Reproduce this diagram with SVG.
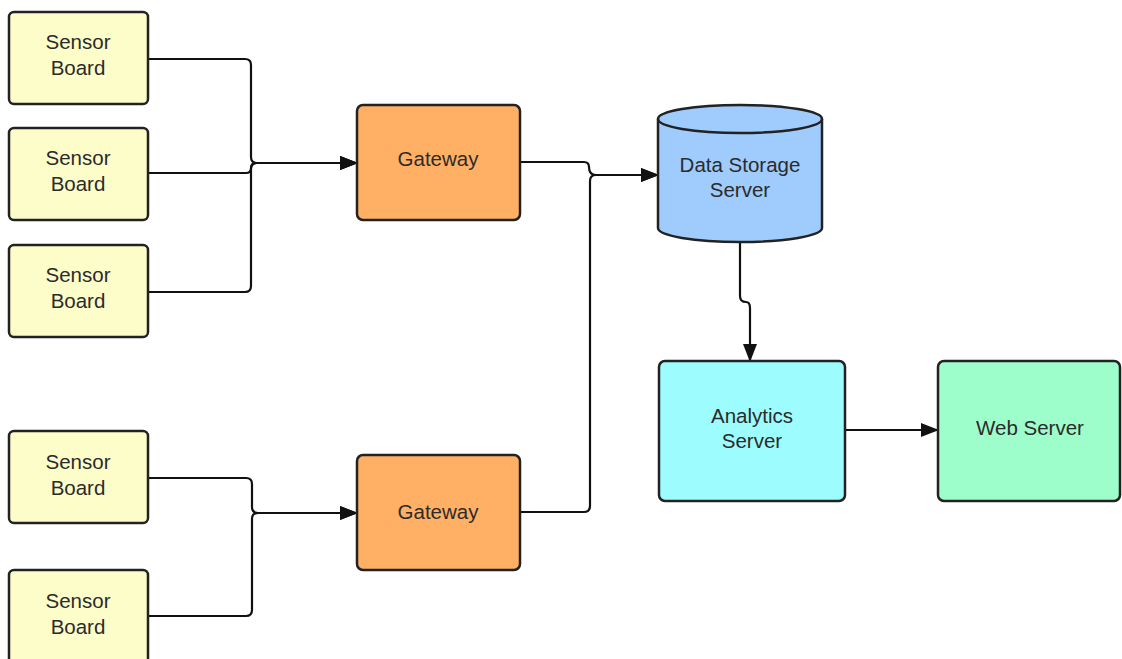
<svg xmlns="http://www.w3.org/2000/svg" width="1122" height="659" viewBox="0 0 1122 659">
  <defs>
    <marker id="arrow" markerUnits="userSpaceOnUse" markerWidth="18" markerHeight="14" refX="17" refY="7" orient="auto">
      <path d="M0,0 L18,7 L0,14 Z" fill="#111"/>
    </marker>
    <style>
      .box { stroke: #222; stroke-width: 2.5; }
      .sensor { fill: #fdfdc9; }
      .gateway { fill: #ffb064; }
      .storage { fill: #9fcbfd; }
      .analytics { fill: #9dfcfe; }
      .web { fill: #9dfdcb; }
      .lbl { font-family: "Liberation Sans", Arial, sans-serif; font-size: 20.5px; fill: #2b2b2b; text-anchor: middle; }
      .wire { fill: none; stroke: #111; stroke-width: 2.2; }
    </style>
  </defs>
  <rect width="1122" height="659" fill="#ffffff"/>

  <!-- connectors -->
  <g id="connectors">
    <path class="wire" d="M148,59 H245 Q251,59 251,65 V157 Q251,163 257,163 H357" marker-end="url(#arrow)"/>
    <path class="wire" d="M148,173 H246 Q251,173 251,168 Q251,163 256,163 H357" marker-end="url(#arrow)"/>
    <path class="wire" d="M148,292 H245 Q251,292 251,286 V169 Q251,163 257,163 H357" marker-end="url(#arrow)"/>
    <path class="wire" d="M148,478 H246 Q252,478 252,484 V507 Q252,513 258,513 H357" marker-end="url(#arrow)"/>
    <path class="wire" d="M148,616 H246 Q252,616 252,610 V519 Q252,513 258,513 H357" marker-end="url(#arrow)"/>
    <path class="wire" d="M520,162 H584 Q589,162 589,167 Q589,175 596,175 H658" marker-end="url(#arrow)"/>
    <path class="wire" d="M520,512 H584 Q590,512 590,506 V181 Q590,175 596,175 H658" marker-end="url(#arrow)"/>
    <path class="wire" d="M740,242 V296 Q740,302 746,302 Q750,302 750,308 V361" marker-end="url(#arrow)"/>
    <path class="wire" d="M845,430 H938" marker-end="url(#arrow)"/>
  </g>

  <g id="sensor1">
    <rect class="box sensor" x="9" y="12" width="139" height="92" rx="5"/>
    <text class="lbl" x="78" y="49">Sensor</text>
    <text class="lbl" x="78" y="75">Board</text>
  </g>
  <g id="sensor2">
    <rect class="box sensor" x="9" y="128" width="139" height="92" rx="5"/>
    <text class="lbl" x="78" y="165">Sensor</text>
    <text class="lbl" x="78" y="191">Board</text>
  </g>
  <g id="sensor3">
    <rect class="box sensor" x="9" y="245" width="139" height="92" rx="5"/>
    <text class="lbl" x="78" y="282">Sensor</text>
    <text class="lbl" x="78" y="308">Board</text>
  </g>
  <g id="sensor4">
    <rect class="box sensor" x="9" y="431" width="139" height="92" rx="5"/>
    <text class="lbl" x="78" y="469">Sensor</text>
    <text class="lbl" x="78" y="495">Board</text>
  </g>
  <g id="sensor5">
    <rect class="box sensor" x="9" y="570" width="139" height="100" rx="5"/>
    <text class="lbl" x="78" y="608">Sensor</text>
    <text class="lbl" x="78" y="634">Board</text>
  </g>

  <g id="gateway1">
    <rect class="box gateway" x="357" y="105" width="163" height="115" rx="6"/>
    <text class="lbl" x="438" y="166">Gateway</text>
  </g>
  <g id="gateway2">
    <rect class="box gateway" x="357" y="455" width="163" height="115" rx="6"/>
    <text class="lbl" x="438" y="519">Gateway</text>
  </g>

  <g id="storage">
    <path class="box storage" d="M658,119 A82,14 0 0 1 822,119 V228 A82,14 0 0 1 658,228 Z"/>
    <path class="box" fill="none" d="M658,119 A82,14 0 0 0 822,119"/>
    <text class="lbl" x="740" y="172">Data Storage</text>
    <text class="lbl" x="740" y="197">Server</text>
  </g>

  <g id="analytics">
    <rect class="box analytics" x="659" y="361" width="186" height="140" rx="6"/>
    <text class="lbl" x="752" y="423">Analytics</text>
    <text class="lbl" x="752" y="448">Server</text>
  </g>

  <g id="webserver">
    <rect class="box web" x="938" y="361" width="182" height="140" rx="6"/>
    <text class="lbl" x="1030" y="435">Web Server</text>
  </g>
</svg>
